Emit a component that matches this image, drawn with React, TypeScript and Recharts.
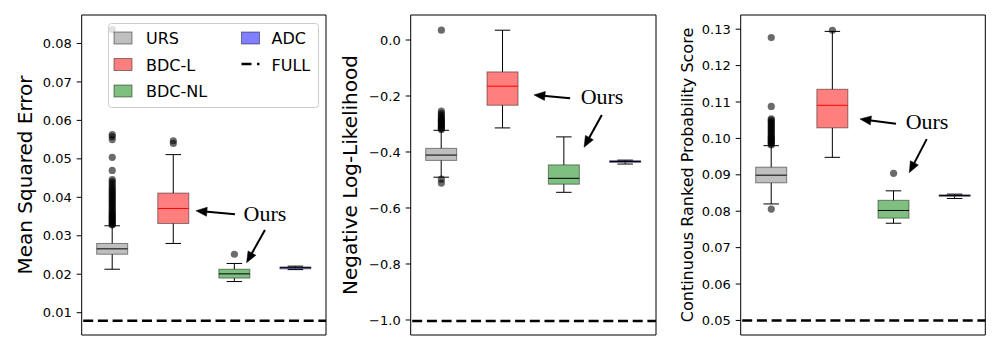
import React from 'react';
import {
  ComposedChart,
  Bar,
  Scatter,
  XAxis,
  YAxis,
  ReferenceLine,
  ReferenceArea,
  ReferenceDot,
  Legend,
} from 'recharts';

// ---------- categories ----------
const METHODS = ['URS', 'BDC-L', 'BDC-NL', 'ADC'];
const POSITIONS = [1, 2, 3, 4];

// ---------- Mean Squared Error ----------
const MSE_WHISKER_LOW = [0.0213, 0.028, 0.0181, 0.0212];
const MSE_Q1 = [0.0252, 0.0332, 0.019, 0.0214];
const MSE_MEDIAN = [0.0266, 0.0371, 0.0201, 0.0217];
const MSE_Q3 = [0.028, 0.0411, 0.0213, 0.0219];
const MSE_WHISKER_HIGH = [0.0326, 0.0511, 0.0228, 0.0221];
const MSE_OUTLIERS_URS = [
  0.0328, 0.033, 0.0333, 0.0336, 0.0339, 0.0342, 0.0345, 0.0348, 0.0351, 0.0354, 0.0357,
  0.036, 0.0364, 0.0368, 0.0372, 0.0376, 0.038, 0.0384, 0.0388, 0.0392, 0.0396, 0.04,
  0.0404, 0.0408, 0.0412, 0.0416, 0.042, 0.0425, 0.043, 0.0436, 0.0441, 0.0446, 0.047,
  0.0504, 0.055, 0.0558, 0.0563, 0.0836,
];
const MSE_OUTLIERS_BDCL = [0.054, 0.0547];
const MSE_OUTLIERS_BDCNL = [0.0252];
const MSE_OUTLIERS_ADC: number[] = [];
const MSE_FULL = 0.0079;
const MSE_TICKS = [0.01, 0.02, 0.03, 0.04, 0.05, 0.06, 0.07, 0.08];

// ---------- Negative Log-Likelihood ----------
const NLL_WHISKER_LOW = [-0.49, -0.314, -0.544, -0.443];
const NLL_Q1 = [-0.43, -0.233, -0.515, -0.437];
const NLL_MEDIAN = [-0.411, -0.165, -0.494, -0.434];
const NLL_Q3 = [-0.387, -0.114, -0.446, -0.431];
const NLL_WHISKER_HIGH = [-0.3225, 0.035, -0.346, -0.429];
const NLL_OUTLIERS_URS = [
  0.035, -0.254, -0.262, -0.268, -0.274, -0.279, -0.284, -0.288, -0.292, -0.296, -0.3,
  -0.304, -0.308, -0.312, -0.316, -0.32, -0.497, -0.511,
];
const NLL_OUTLIERS_BDCL: number[] = [];
const NLL_OUTLIERS_BDCNL: number[] = [];
const NLL_OUTLIERS_ADC: number[] = [];
const NLL_FULL = -1.004;
const NLL_TICKS = [-1.0, -0.8, -0.6, -0.4, -0.2, 0.0];

// ---------- Continuous Ranked Probability Score ----------
const CRPS_WHISKER_LOW = [0.082, 0.0948, 0.0767, 0.0835];
const CRPS_Q1 = [0.0878, 0.1029, 0.0781, 0.0841];
const CRPS_MEDIAN = [0.0899, 0.1091, 0.0802, 0.0843];
const CRPS_Q3 = [0.0921, 0.1135, 0.083, 0.0845];
const CRPS_WHISKER_HIGH = [0.098, 0.1294, 0.0856, 0.0847];
const CRPS_OUTLIERS_URS = [
  0.0806, 0.0982, 0.0985, 0.0988, 0.0991, 0.0994, 0.0997, 0.1, 0.1003, 0.1006, 0.101,
  0.1014, 0.1018, 0.1022, 0.1026, 0.103, 0.1034, 0.1038, 0.1042, 0.1046, 0.105, 0.1054,
  0.1088, 0.1277,
];
const CRPS_OUTLIERS_BDCL = [0.1297];
const CRPS_OUTLIERS_BDCNL = [0.0904];
const CRPS_OUTLIERS_ADC: number[] = [];
const CRPS_FULL = 0.05;
const CRPS_TICKS = [0.05, 0.06, 0.07, 0.08, 0.09, 0.1, 0.11, 0.12, 0.13];

// ---------- styles ----------
const BOX_FILL: Record<string, string> = {
  URS: 'rgba(128,128,128,0.5)',
  'BDC-L': 'rgba(255,0,0,0.5)',
  'BDC-NL': 'rgba(0,128,0,0.5)',
  ADC: 'rgba(0,0,255,0.5)',
};
const MEDIAN_COLOR: Record<string, string> = {
  URS: '#000000',
  'BDC-L': '#ff0000',
  'BDC-NL': '#000000',
  ADC: '#000000',
};
const SANS = '"DejaVu Sans", sans-serif';
const SERIF = '"Liberation Serif", "Times New Roman", serif';

type Row = { name: string; wlo: number; q1: number; med: number; q3: number; whi: number };

function buildRows(wlo: number[], q1: number[], med: number[], q3: number[], whi: number[]): Row[] {
  return METHODS.map((name, i) => ({ name, wlo: wlo[i], q1: q1[i], med: med[i], q3: q3[i], whi: whi[i] }));
}

function buildOutliers(lists: number[][]) {
  const out: { x: number; y: number }[] = [];
  lists.forEach((list, i) => list.forEach((v) => out.push({ x: POSITIONS[i], y: v })));
  return out;
}

const BoxShape = (props: any) => {
  const { x, y, width, height, payload } = props;
  if (payload == null || x == null) return null;
  const top = Math.min(y, y + height);
  const bottom = Math.max(y, y + height);
  const span = payload.whi - payload.wlo;
  const ppu = span !== 0 ? (bottom - top) / span : 0;
  const py = (v: number) => top + (payload.whi - v) * ppu;
  const cx = x + width / 2;
  const capHalf = width / 4;
  const yq3 = py(payload.q3);
  const yq1 = py(payload.q1);
  const ym = py(payload.med);
  return (
    <g>
      <line x1={cx} x2={cx} y1={top} y2={yq3} stroke="#000" strokeWidth={1} />
      <line x1={cx} x2={cx} y1={yq1} y2={bottom} stroke="#000" strokeWidth={1} />
      <line x1={cx - capHalf} x2={cx + capHalf} y1={top} y2={top} stroke="#000" strokeWidth={1} />
      <line x1={cx - capHalf} x2={cx + capHalf} y1={bottom} y2={bottom} stroke="#000" strokeWidth={1} />
      <rect
        x={x}
        y={yq3}
        width={width}
        height={Math.max(yq1 - yq3, 0.5)}
        fill={BOX_FILL[payload.name]}
        stroke="rgba(0,0,0,0.45)"
        strokeWidth={1}
      />
      <line x1={x} x2={x + width} y1={ym} y2={ym} stroke={MEDIAN_COLOR[payload.name]} strokeWidth={1} />
    </g>
  );
};

const OutlierDot = (props: any) => {
  const { cx, cy } = props;
  if (cx == null || cy == null) return null;
  return <circle cx={cx} cy={cy} r={3.6} fill="#000" fillOpacity={0.58} />;
};

const ArrowShape = (props: any) => {
  const { x1, y1, x2, y2 } = props;
  if ([x1, y1, x2, y2].some((v) => v == null || isNaN(v))) return null;
  const dx = x2 - x1;
  const dy = y2 - y1;
  const len = Math.sqrt(dx * dx + dy * dy) || 1;
  const ux = dx / len;
  const uy = dy / len;
  const L = 11;
  const W = 4.5;
  const bx = x2 - ux * L;
  const by = y2 - uy * L;
  const pts = `${x2},${y2} ${bx - uy * W},${by + ux * W} ${bx + uy * W},${by - ux * W}`;
  return (
    <g>
      <line x1={x1} y1={y1} x2={bx + ux * 2} y2={by + uy * 2} stroke="#000" strokeWidth={2} />
      <polygon points={pts} fill="#000" stroke="#000" strokeWidth={0.5} />
    </g>
  );
};

const OursText = (props: any) => {
  const { cx, cy } = props;
  if (cx == null || cy == null) return null;
  return (
    <text x={cx} y={cy + 7} textAnchor="middle" fontFamily={SERIF} fontSize={22} fill="#000">
      Ours
    </text>
  );
};

const LegendBox = () => {
  const sw = (x: number, cy: number, fill: string) => (
    <rect x={x} y={cy - 6} width={18} height={12} fill={fill} stroke="rgba(0,0,0,0.45)" strokeWidth={1} />
  );
  const txt = (x: number, cy: number, s: string) => (
    <text x={x} y={cy + 6} fontFamily={SANS} fontSize={16} fill="#000">
      {s}
    </text>
  );
  return (
    <svg width={212} height={86} style={{ display: 'block' }}>
      <rect x={0.5} y={0.5} width={210} height={84} rx={3} ry={3} fill="rgba(255,255,255,0.8)" stroke="#cccccc" />
      {sw(6, 15, BOX_FILL['URS'])}
      {txt(38, 15, 'URS')}
      {sw(6, 41.5, BOX_FILL['BDC-L'])}
      {txt(38, 41.5, 'BDC-L')}
      {sw(6, 68, BOX_FILL['BDC-NL'])}
      {txt(38, 68, 'BDC-NL')}
      {sw(133.5, 15, BOX_FILL['ADC'])}
      {txt(163.5, 15, 'ADC')}
      <line x1={133.5} x2={151.5} y1={41} y2={41} stroke="#000" strokeWidth={2.5} strokeDasharray="10 5.5" />
      {txt(163.5, 41.5, 'FULL')}
    </svg>
  );
};

type Annot = { text: [number, number]; arrows: [number, number, number, number][] };

type PanelProps = {
  left: number;
  width: number;
  marginLeft: number;
  marginRight: number;
  rows: Row[];
  outliers: { x: number; y: number }[];
  domain: [number, number];
  ticks: number[];
  fmt: (v: number) => string;
  label: string;
  labelSize: number;
  labelOffset: number;
  full: number;
  annot: Annot;
  legend?: boolean;
};

const Panel = (p: PanelProps) => {
  const H = 350;
  const labelRenderer = (lp: any) => {
    const vb = lp.viewBox || {};
    const plotLeft = (vb.x ?? 0) + (vb.width ?? 0);
    const cx = plotLeft - p.labelOffset;
    const cy = (vb.y ?? 15) + (vb.height ?? 320) / 2;
    return (
      <text
        x={cx}
        y={cy}
        transform={`rotate(-90 ${cx} ${cy})`}
        textAnchor="middle"
        fontFamily={SANS}
        fontSize={p.labelSize}
        fill="#000"
      >
        {p.label}
      </text>
    );
  };
  return (
    <div style={{ position: 'absolute', left: p.left, top: 0, width: p.width, height: H }}>
      <ComposedChart
        width={p.width}
        height={H}
        data={p.rows}
        margin={{ top: 15, bottom: 15, left: p.marginLeft, right: p.marginRight }}
      >
        <XAxis xAxisId="cat" dataKey="name" type="category" hide padding={{ left: 0, right: 0 }} />
        <XAxis xAxisId="num" dataKey="x" type="number" domain={[0.5, 4.5]} allowDataOverflow hide />
        <YAxis
          type="number"
          domain={p.domain}
          allowDataOverflow
          ticks={p.ticks}
          tickFormatter={p.fmt}
          width={60}
          axisLine={false}
          tickSize={5}
          tickMargin={5}
          tickLine={{ stroke: '#000', strokeWidth: 1 }}
          tick={{ fontSize: 13, fill: '#000', fontFamily: SANS }}
          interval={0}
          label={labelRenderer}
        />
        <Bar
          xAxisId="cat"
          dataKey={(d: Row) => [d.wlo, d.whi]}
          barSize={31}
          shape={BoxShape}
          isAnimationActive={false}
        />
        <Scatter
          xAxisId="num"
          data={p.outliers}
          dataKey="y"
          shape={OutlierDot}
          isAnimationActive={false}
        />
        <ReferenceLine
          xAxisId="num"
          y={p.full}
          stroke="#000"
          strokeWidth={2.5}
          strokeDasharray="10 4.7"
          strokeDashoffset={-1.5}
          ifOverflow="visible"
        />
        {p.annot.arrows.map((a, i) => (
          <ReferenceLine
            key={`arr${i}`}
            xAxisId="num"
            segment={[
              { x: a[0], y: a[1] },
              { x: a[2], y: a[3] },
            ]}
            ifOverflow="visible"
            shape={ArrowShape}
          />
        ))}
        <ReferenceDot
          xAxisId="num"
          x={p.annot.text[0]}
          y={p.annot.text[1]}
          r={0}
          ifOverflow="visible"
          shape={OursText}
        />
        <ReferenceArea
          xAxisId="num"
          x1={0.5}
          x2={4.5}
          y1={p.domain[0]}
          y2={p.domain[1]}
          fill="none"
          fillOpacity={0}
          stroke="#000"
          strokeWidth={1}
          ifOverflow="visible"
        />
        {p.legend ? (
          <Legend
            layout="vertical"
            align="center"
            verticalAlign="middle"
            wrapperStyle={{ left: 108, top: 23, width: 212, height: 86 }}
            content={() => <LegendBox />}
          />
        ) : null}
      </ComposedChart>
    </div>
  );
};

const fmt2 = (v: number) => v.toFixed(2);
const fmtNll = (v: number) => (Math.abs(v) < 1e-9 ? '0.0' : v.toFixed(1).replace('-', '\u2212'));

export default function App() {
  const mseRows = buildRows(MSE_WHISKER_LOW, MSE_Q1, MSE_MEDIAN, MSE_Q3, MSE_WHISKER_HIGH);
  const nllRows = buildRows(NLL_WHISKER_LOW, NLL_Q1, NLL_MEDIAN, NLL_Q3, NLL_WHISKER_HIGH);
  const crpsRows = buildRows(CRPS_WHISKER_LOW, CRPS_Q1, CRPS_MEDIAN, CRPS_Q3, CRPS_WHISKER_HIGH);
  const mseOut = buildOutliers([MSE_OUTLIERS_URS, MSE_OUTLIERS_BDCL, MSE_OUTLIERS_BDCNL, MSE_OUTLIERS_ADC]);
  const nllOut = buildOutliers([NLL_OUTLIERS_URS, NLL_OUTLIERS_BDCL, NLL_OUTLIERS_BDCNL, NLL_OUTLIERS_ADC]);
  const crpsOut = buildOutliers([CRPS_OUTLIERS_URS, CRPS_OUTLIERS_BDCL, CRPS_OUTLIERS_BDCNL, CRPS_OUTLIERS_ADC]);

  return (
    <div style={{ position: 'absolute', left: 0, top: 0, width: 1000, height: 350, background: '#fff' }}>
      <Panel
        left={0}
        width={330}
        marginLeft={21.7}
        marginRight={4}
        rows={mseRows}
        outliers={mseOut}
        domain={[0.0042, 0.0874]}
        ticks={MSE_TICKS}
        fmt={fmt2}
        label="Mean Squared Error"
        labelSize={20}
        labelOffset={50}
        full={MSE_FULL}
        annot={{
          text: [3.5, 0.0356],
          arrows: [
            [3.01, 0.0356, 2.37, 0.0365],
            [3.5, 0.0315, 3.2, 0.023],
          ],
        }}
        legend
      />
      <Panel
        left={330}
        width={330}
        marginLeft={20.7}
        marginRight={4}
        rows={nllRows}
        outliers={nllOut}
        domain={[-1.0536, 0.0893]}
        ticks={NLL_TICKS}
        fmt={fmtNll}
        label="Negative Log-Likelihood"
        labelSize={20}
        labelOffset={54}
        full={NLL_FULL}
        annot={{
          text: [3.62, -0.205],
          arrows: [
            [3.1, -0.208, 2.51, -0.196],
            [3.616, -0.268, 3.327, -0.383],
          ],
        }}
      />
      <Panel
        left={660}
        width={340}
        marginLeft={20.7}
        marginRight={14.7}
        rows={crpsRows}
        outliers={crpsOut}
        domain={[0.046, 0.1339]}
        ticks={CRPS_TICKS}
        fmt={fmt2}
        label="Continuous Ranked Probability Score"
        labelSize={16}
        labelOffset={48}
        full={CRPS_FULL}
        annot={{
          text: [3.547, 0.1044],
          arrows: [
            [3.04, 0.104, 2.451, 0.10534],
            [3.542, 0.0998, 3.257, 0.0906],
          ],
        }}
      />
    </div>
  );
}
